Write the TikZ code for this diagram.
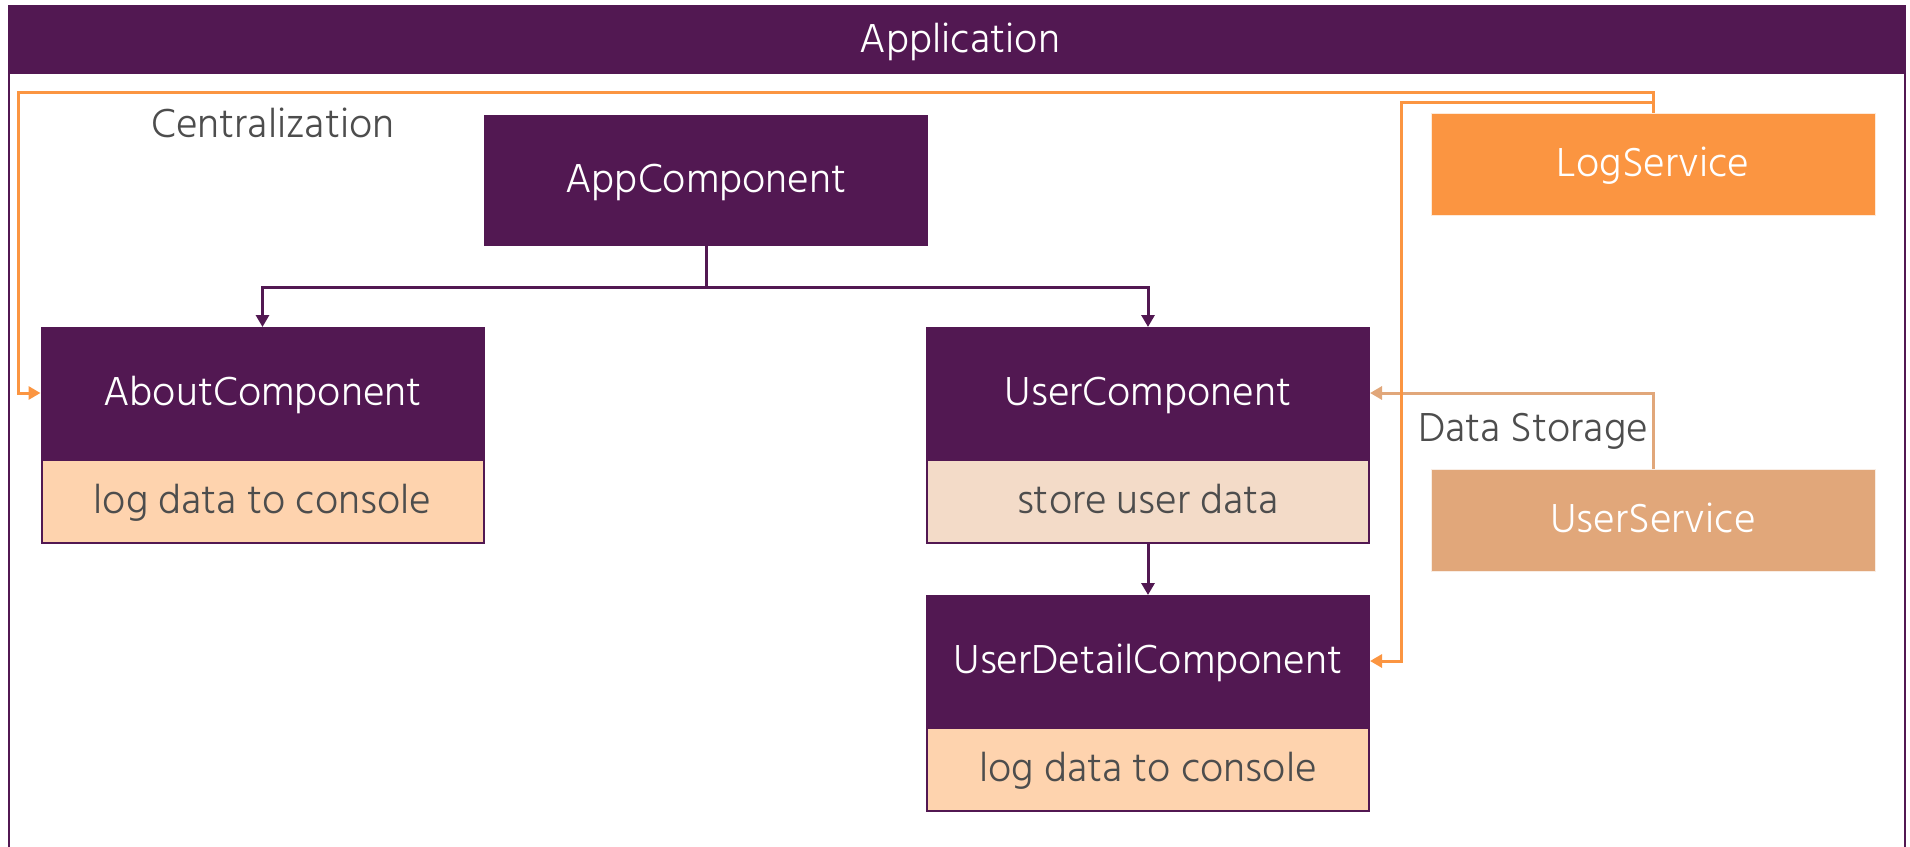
\documentclass[tikz,border=0pt]{standalone}
\usepackage{fontspec}
\setmainfont{Hind Madurai Light}
\usetikzlibrary{arrows.meta}
\definecolor{plum}{HTML}{521852}
\definecolor{logorange}{HTML}{FB9541}
\definecolor{usertan}{HTML}{E1A77A}
\definecolor{peach}{HTML}{FED3AE}
\definecolor{lightpeach}{HTML}{F3DBC8}
\definecolor{txtgray}{HTML}{4D4D4D}
\tikzset{
  txt/.style={inner sep=0pt, text height=32pt, text depth=8pt, font=\fontsize{41.5}{44}\selectfont},
  comphead/.style={txt, draw=plum, line width=2pt, fill=plum, text=white, minimum width=442pt, minimum height=130pt},
  compbody/.style={txt, draw=plum, line width=2pt, fill=#1, text=txtgray, minimum width=442pt, minimum height=83pt},
  service/.style={txt, draw=white!80!#1, line width=1pt, fill=#1, text=white, minimum width=444pt, minimum height=102pt},
  label/.style={txt, text=txtgray},
  tree/.style={draw=plum, line width=3pt, -{Triangle[length=12pt,width=13pt]}},
  logline/.style={draw=logorange, line width=3pt, -{Triangle[length=12pt,width=13pt]}},
  dataline/.style={draw=usertan, line width=3pt, -{Triangle[length=12pt,width=13pt]}},
}
\begin{document}
\begin{tikzpicture}[x=1pt,y=-1pt]
\useasboundingbox (0,0) rectangle (1910,846);
% application frame
\draw[plum, line width=2.5pt] (9,860) -- (9,6) -- (1905,6) -- (1905,860);
\fill[plum] (9,6) rectangle (1905,74);
\node[txt, text=white] (apptitle) at (960,40.5) {Application};

% components
\node[comphead, minimum height=129pt] (appc) at (706,180.5) {AppComponent};
\node[comphead] (about) at (262.5,393) {AboutComponent};
\node[compbody=peach, anchor=north] (aboutb) at (about.south) {log data to console};
\node[comphead] (user) at (1148,393) {UserComponent};
\node[compbody=lightpeach, anchor=north] (userb) at (user.south) {store user data};
\node[comphead] (detail) at (1148,661) {UserDetailComponent};
\node[compbody=peach, anchor=north] (detailb) at (detail.south) {log data to console};

% services
\node[service=logorange] (log) at (1653,164) {LogService};
\node[service=usertan] (usvc) at (1653,520.5) {UserService};

% labels
\node[label] (central) at (273,125) {Centralization};
\node[label] (storage) at (1533,429) {Data Storage};

% tree connectors
\draw[tree] (appc.south) -- ++(0,41) -| (about.north);
\draw[tree] (appc.south) -- ++(0,41) -| (user.north);
\draw[tree] (userb.south) -- (detail.north);

% service connectors
\draw[dataline] (usvc.north) |- (user.east);
\draw[logline] (log.north) -- ++(0,-20) -| (18,393) -- (about.west);
\draw[logline] (log.north) -- ++(0,-10) -| (1401,661) -- (detail.east);
\end{tikzpicture}
\end{document}
